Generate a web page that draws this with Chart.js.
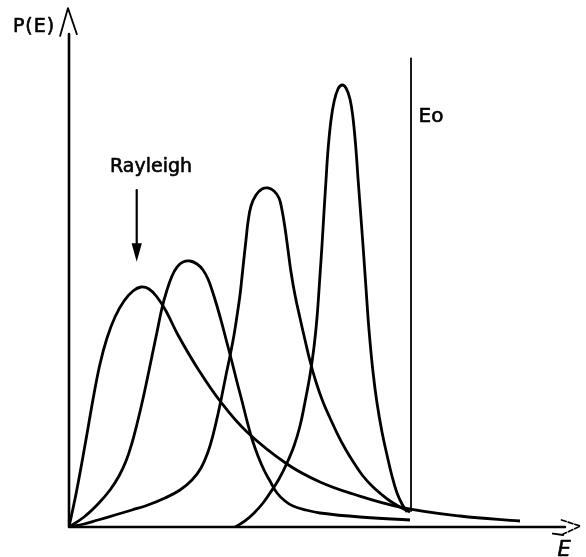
<!DOCTYPE html>
<html>
<head>
<meta charset="utf-8">
<script src="https://cdn.jsdelivr.net/npm/chart.js@4/dist/chart.umd.min.js"></script>
<style>
  html, body { margin: 0; padding: 0; background: #fff; }
  #wrap { width: 586px; height: 557px; position: relative; }
</style>
</head>
<body>
<div id="wrap"><canvas id="c"></canvas></div>
<script>
// Energy in units where Eo = 10; P(E) in arbitrary units (tallest peak = 10)
const E0 = 10;
const rayleighX = [0, 0.205, 0.380, 0.556, 0.731, 0.906, 1.111, 1.345, 1.608, 1.871, 2.105, 2.339, 2.573, 2.836, 3.187, 3.772, 4.415, 5.205, 6.374, 7.339, 8.304, 9.678, 11.433, 13.187];
const rayleighY = [0, 0.747, 1.471, 2.240, 3.009, 3.688, 4.276, 4.751, 5.113, 5.339, 5.430, 5.385, 5.204, 4.887, 4.344, 3.575, 2.851, 2.149, 1.425, 1.018, 0.747, 0.452, 0.249, 0.136];

const curve2X = [0, 0.439, 0.848, 1.199, 1.462, 1.667, 1.842, 1.988, 2.135, 2.281, 2.427, 2.573, 2.719, 2.865, 3.012, 3.158, 3.333, 3.538, 3.743, 3.918, 4.064, 4.181, 4.327, 4.474, 4.620, 4.766, 4.912, 5.058, 5.205, 5.351, 5.526, 5.702, 5.877, 6.082, 6.316, 6.550, 6.930, 7.339, 8.509, 9.971];
const curve2Y = [0, 0.226, 0.520, 0.837, 1.154, 1.493, 1.900, 2.330, 2.805, 3.326, 3.869, 4.412, 4.955, 5.362, 5.679, 5.882, 5.995, 6.018, 5.950, 5.814, 5.611, 5.362, 5.000, 4.593, 4.163, 3.733, 3.281, 2.851, 2.398, 1.991, 1.606, 1.290, 1.041, 0.769, 0.588, 0.475, 0.385, 0.317, 0.226, 0.158];

const curve3X = [0, 0.439, 0.848, 1.345, 1.842, 2.310, 2.807, 3.246, 3.596, 3.860, 4.064, 4.211, 4.357, 4.474, 4.591, 4.708, 4.825, 4.912, 5.000, 5.058, 5.117, 5.175, 5.234, 5.322, 5.468, 5.643, 5.819, 5.994, 6.140, 6.228, 6.316, 6.404, 6.491, 6.608, 6.754, 6.901, 7.047, 7.222, 7.427, 7.632, 7.865, 8.099, 8.333, 8.596, 8.860, 9.123, 9.386, 9.678, 9.971];
const curve3Y = [0, 0.068, 0.158, 0.271, 0.385, 0.498, 0.656, 0.837, 1.063, 1.335, 1.697, 2.081, 2.557, 2.986, 3.439, 3.869, 4.344, 4.774, 5.249, 5.656, 6.086, 6.493, 6.900, 7.262, 7.511, 7.647, 7.670, 7.602, 7.443, 7.172, 6.765, 6.267, 5.769, 5.249, 4.729, 4.231, 3.756, 3.281, 2.828, 2.466, 2.081, 1.742, 1.448, 1.154, 0.928, 0.747, 0.588, 0.452, 0.339];

const curve4X = [4.854, 5.146, 5.439, 5.673, 5.877, 6.140, 6.374, 6.579, 6.754, 6.901, 7.047, 7.164, 7.251, 7.339, 7.398, 7.456, 7.515, 7.573, 7.661, 7.749, 7.865, 7.982, 8.099, 8.216, 8.304, 8.392, 8.450, 8.509, 8.596, 8.684, 8.772, 8.889, 9.006, 9.152, 9.298, 9.444, 9.591, 9.737, 9.883];
const curve4Y = [0, 0.136, 0.339, 0.543, 0.769, 1.086, 1.448, 1.833, 2.285, 2.828, 3.439, 4.072, 4.729, 5.701, 6.380, 7.127, 7.851, 8.529, 9.208, 9.615, 9.910, 10.000, 9.932, 9.683, 9.253, 8.529, 7.896, 7.285, 6.380, 5.407, 4.457, 3.507, 2.805, 2.149, 1.629, 1.154, 0.769, 0.520, 0.339];

const toPts = (xs, ys) => xs.map((x, i) => ({ x: x, y: ys[i] }));

const FONT = '"DejaVu Sans", sans-serif';

const drawPlugin = {
  id: 'schematic',
  afterDatasetsDraw(chart) {
    const { ctx, scales: { x, y } } = chart;
    const px = v => x.getPixelForValue(v);
    const py = v => y.getPixelForValue(v);
    ctx.save();
    ctx.strokeStyle = '#000';
    ctx.fillStyle = '#000';
    ctx.lineCap = 'round';
    ctx.lineJoin = 'round';

    // axes
    ctx.lineWidth = 2.6;
    ctx.beginPath();
    ctx.moveTo(px(0), py(0));
    ctx.lineTo(px(0), py(11.15));
    ctx.moveTo(px(0), py(0));
    ctx.lineTo(px(14.5), py(0));
    ctx.stroke();

    // y arrowhead (open)
    ctx.lineWidth = 1.8;
    ctx.beginPath();
    ctx.moveTo(px(-0.26), py(11.11));
    ctx.lineTo(px(-0.03), py(11.74));
    ctx.lineTo(px(0.23), py(11.15));
    ctx.stroke();

    // x arrowhead (open, sketchy)
    ctx.lineWidth = 1.6;
    ctx.setLineDash([5, 2]);
    ctx.beginPath();
    ctx.moveTo(px(14.40), py(0.16));
    ctx.lineTo(px(14.95), py(0.02));
    ctx.lineTo(px(14.45), py(-0.16));
    ctx.stroke();
    ctx.setLineDash([]);
    ctx.lineWidth = 2;
    ctx.beginPath();
    ctx.moveTo(px(14.15), py(-0.15));
    ctx.lineTo(px(14.45), py(-0.18));
    ctx.stroke();

    // Eo vertical line
    ctx.lineWidth = 1.8;
    ctx.beginPath();
    ctx.moveTo(px(E0), py(10.6));
    ctx.lineTo(px(E0), py(0.36));
    ctx.stroke();

    // Rayleigh arrow
    ctx.lineWidth = 2.2;
    ctx.beginPath();
    ctx.moveTo(px(1.98), py(7.62));
    ctx.lineTo(px(1.98), py(6.35));
    ctx.stroke();
    ctx.beginPath();
    ctx.moveTo(px(1.98), py(6.0));
    ctx.lineTo(px(1.83), py(6.42));
    ctx.lineTo(px(2.13), py(6.42));
    ctx.closePath();
    ctx.fill();

    // texts (slightly heavier, like the original lettering)
    const label = (t, xv, yv) => {
      ctx.fillText(t, px(xv), py(yv));
      ctx.strokeText(t, px(xv), py(yv));
    };
    ctx.lineWidth = 0.6;
    ctx.textBaseline = 'alphabetic';
    ctx.textAlign = 'left';
    ctx.font = '19px ' + FONT;
    try { ctx.letterSpacing = '1px'; } catch (e) {}
    label('P(E)', -1.64, 11.20);
    ctx.font = '20px ' + FONT;
    try { ctx.letterSpacing = '0px'; } catch (e) {}
    label('Eo', 10.22, 9.16);
    ctx.textAlign = 'center';
    ctx.font = '19px ' + FONT;
    label('Rayleigh', 2.40, 8.03);
    ctx.textAlign = 'left';
    ctx.font = 'italic 21px ' + FONT;
    label('E', 14.28, -0.66);
    ctx.restore();
  }
};

const ds = (xs, ys) => ({
  data: toPts(xs, ys),
  showLine: true,
  borderColor: '#000',
  borderWidth: 2.8,
  pointRadius: 0,
  fill: false,
  tension: 0.4
});

new Chart(document.getElementById('c'), {
  type: 'scatter',
  data: {
    datasets: [
      ds(rayleighX, rayleighY),
      ds(curve2X, curve2Y),
      ds(curve3X, curve3Y),
      ds(curve4X, curve4Y)
    ]
  },
  options: {
    responsive: true,
    maintainAspectRatio: false,
    animation: false,
    layout: { padding: { left: 69, right: 0, top: 0, bottom: 30 } },
    plugins: { legend: { display: false }, tooltip: { enabled: false } },
    scales: {
      x: { type: 'linear', min: 0, max: 517 / 34.2, display: false },
      y: { type: 'linear', min: 0, max: 527 / 44.2, display: false }
    }
  },
  plugins: [drawPlugin]
});
</script>
</body>
</html>
